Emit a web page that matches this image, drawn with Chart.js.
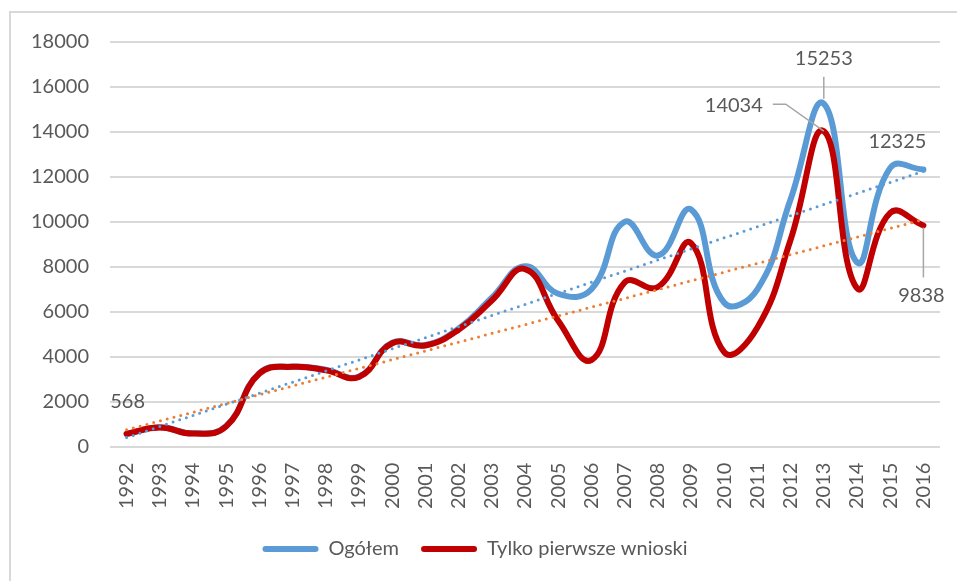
<!DOCTYPE html>
<html>
<head>
<meta charset="utf-8">
<script src="https://cdn.jsdelivr.net/npm/chart.js@4.4.1/dist/chart.umd.min.js"></script>
<style>
  html, body { margin: 0; padding: 0; background: #fff; }
  #wrap { position: relative; width: 957px; height: 581px; }
  #frame { position: absolute; left: 9px; top: 11px; right: 0; bottom: 0;
           border-left: 2px solid #D9D9D9; border-top: 2px solid #D9D9D9; }
  canvas { position: absolute; left: 0; top: 0; }
</style>
</head>
<body>
<div id="wrap">
  <div id="frame"></div>
  <canvas id="chart" width="957" height="581"></canvas>
</div>
<script>
// lata
var lata = ['1992','1993','1994','1995','1996','1997','1998','1999','2000','2001','2002','2003','2004',
            '2005','2006','2007','2008','2009','2010','2011','2012','2013','2014','2015','2016'];

// Ogółem
var ogolem = [560, 860, 590, 920, 3270, 3560, 3420, 3120, 4620, 4520, 5250, 6620, 8020,
              6800, 7000, 10000, 8500, 10550, 6400, 7000, 11000, 15253, 8200, 12400, 12325];

// Tylko pierwsze wnioski
var pierwsze = [568, 850, 580, 900, 3250, 3550, 3400, 3100, 4600, 4500, 5200, 6500, 7900,
                5600, 3850, 7300, 7100, 9050, 4200, 5300, 9200, 14034, 7050, 10400, 9838];

// linie trendu (wartości na początku i końcu)
var trendOgolem = [400, 12250];
var trendPierwsze = [750, 10100];

var NIEBIESKI = '#5B9BD5', CZERWONY = '#C00000', POMARANCZ = '#ED7D31', SZARY = '#595959';
var czcionka = 'Lato, "Open Sans", sans-serif';

// indeksy zbiorów: 0,1 trendy, 2 pierwsze wnioski, 3 ogółem (niższy indeks rysowany na wierzchu)
var IDX_OGOLEM = 3, IDX_PIERWSZE = 2;

// podpisy danych: [zbiór, indeks, dx, dy, linia odniesienia]
var podpisy = [
  [IDX_PIERWSZE, 0, 1, -32, null],
  [IDX_OGOLEM, 21, 0, -45, [[0, -5], [0, -27]]],
  [IDX_PIERWSZE, 21, -90, -26, [[0, 0], [-38, -27], [-51, -27]]],
  [IDX_OGOLEM, 24, -26, -28, null],
  [IDX_PIERWSZE, 24, -2, 70, [[0, 2], [0, 52]]]
];

var pluginPodpisy = {
  id: 'podpisy',
  afterDatasetsDraw: function(chart) {
    var ctx = chart.ctx;
    ctx.save();
    ctx.font = '20px ' + czcionka;
    ctx.fillStyle = SZARY;
    ctx.textAlign = 'center';
    ctx.textBaseline = 'middle';
    podpisy.forEach(function(p) {
      var el = chart.getDatasetMeta(p[0]).data[p[1]];
      var wart = chart.data.datasets[p[0]].data[p[1]];
      if (p[4]) {
        ctx.beginPath();
        ctx.strokeStyle = '#A6A6A6';
        ctx.lineWidth = 1.5;
        p[4].forEach(function(pt, k) {
          if (k === 0) ctx.moveTo(el.x + pt[0], el.y + pt[1]);
          else ctx.lineTo(el.x + pt[0], el.y + pt[1]);
        });
        ctx.stroke();
      }
      ctx.fillText(String(wart), el.x + p[2], el.y + p[3]);
    });
    ctx.restore();
  }
};

new Chart(document.getElementById('chart'), {
  type: 'line',
  data: {
    labels: lata,
    datasets: [
      {
        label: 'Trend Ogółem',
        data: [{x: lata[0], y: trendOgolem[0]}, {x: lata[lata.length - 1], y: trendOgolem[1]}],
        borderColor: NIEBIESKI, borderWidth: 3, borderDash: [0, 7], borderCapStyle: 'round',
        pointRadius: 0, fill: false, tension: 0
      },
      {
        label: 'Trend pierwsze',
        data: [{x: lata[0], y: trendPierwsze[0]}, {x: lata[lata.length - 1], y: trendPierwsze[1]}],
        borderColor: POMARANCZ, borderWidth: 3, borderDash: [0, 7], borderCapStyle: 'round',
        pointRadius: 0, fill: false, tension: 0
      },
      {
        label: 'Tylko pierwsze wnioski',
        data: pierwsze,
        borderColor: CZERWONY, backgroundColor: CZERWONY, borderWidth: 6,
        pointRadius: 0, fill: false, tension: 0.45, borderCapStyle: 'round'
      },
      {
        label: 'Ogółem',
        data: ogolem,
        borderColor: NIEBIESKI, backgroundColor: NIEBIESKI, borderWidth: 6,
        pointRadius: 0, fill: false, tension: 0.45, borderCapStyle: 'round'
      }
    ]
  },
  options: {
    responsive: false,
    animation: false,
    layout: { padding: { left: 10, right: 17, top: 42, bottom: 12 } },
    plugins: {
      tooltip: { enabled: false },
      legend: {
        position: 'bottom',
        labels: {
          color: SZARY,
          font: { family: czcionka, size: 20 },
          boxWidth: 56, boxHeight: 6, padding: 22,
          useBorderRadius: true, borderRadius: 3,
          generateLabels: function(chart) {
            return [IDX_OGOLEM, IDX_PIERWSZE].map(function(i) {
              var ds = chart.data.datasets[i];
              return { text: ds.label, fillStyle: ds.borderColor, strokeStyle: ds.borderColor,
                       lineWidth: 0, datasetIndex: i, borderRadius: 3, fontColor: SZARY };
            });
          }
        }
      }
    },
    scales: {
      x: {
        offset: true,
        grid: { display: false },
        border: { display: false },
        ticks: { color: SZARY, font: { family: czcionka, size: 20 }, minRotation: 90, maxRotation: 90,
                 autoSkip: false, padding: 8 }
      },
      y: {
        min: 0, max: 18000,
        grid: { color: '#D9D9D9', lineWidth: 2, drawTicks: false },
        border: { display: false },
        ticks: { stepSize: 2000, color: SZARY, font: { family: czcionka, size: 20 }, padding: 21,
                 callback: function(v) { return String(v); } }
      }
    }
  },
  plugins: [pluginPodpisy]
});
</script>
</body>
</html>
